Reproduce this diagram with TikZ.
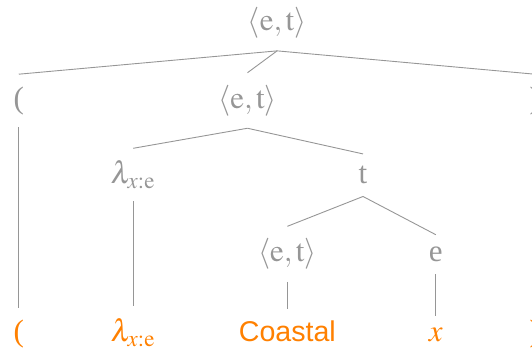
\documentclass[tikz,border=0pt]{standalone}
\usepackage{mathptmx}
\usepackage[no-math]{fontspec}
\setmainfont{Liberation Serif}
\newfontfamily\wordfont{Liberation Sans}
\usepackage{tikz}
\definecolor{TreeGray}{RGB}{150,150,150}
\definecolor{LeafOrange}{RGB}{255,128,0}
\newcommand{\etype}{\ensuremath{\langle\mathrm{e},\mathrm{t}\rangle}}
\newcommand{\lamx}{\ensuremath{\lambda_{x:\mathrm{e}}}}

\begin{document}
\begin{tikzpicture}[
          cat/.style={anchor=base, text=TreeGray, inner xsep=1pt, inner ysep=6pt,
                      font=\fontsize{15.5}{18}\selectfont},
          leaf/.style={cat, text=LeafOrange},
          branch/.style={draw=TreeGray, line width=0.45pt}
        ]
        \clip (0,0) rectangle (9.35,6.15);

        % category nodes
        \node[cat] (root) at (4.87, 5.61) {\etype};
        \node[cat] (lp)   at (0.33, 4.25) {(};
        \node[cat] (mid)  at (4.35, 4.25) {\etype};
        \node[cat] (rp)   at (9.40, 4.25) {)};
        \node[cat] (lam)  at (2.34, 2.92) {\lamx};
        \node[cat] (t)    at (6.38, 2.92) {t};
        \node[cat] (et)   at (5.05, 1.55) {\etype};
        \node[cat] (e)    at (7.66, 1.55) {e};

        % leaves
        \node[leaf] (wlp)  at (0.33, 0.14) {(};
        \node[leaf] (wlam) at (2.34, 0.14) {\lamx};
        \node[leaf] (wcst) at (5.05, 0.14) {\wordfont\fontsize{14.3}{17}\selectfont Coastal};
        \node[leaf] (wx)   at (7.66, 0.14) {$x$};
        \node[leaf] (wrp)  at (9.40, 0.14) {)};

        \foreach \p/\c in {root/lp, root/mid, root/rp, mid/lam, mid/t,
                           t/et, t/e, lp/wlp, lam/wlam, et/wcst, e/wx, rp/wrp} {
          \draw[branch] (\p.south)--(\c.north);
        }
      \end{tikzpicture}
\end{document}
